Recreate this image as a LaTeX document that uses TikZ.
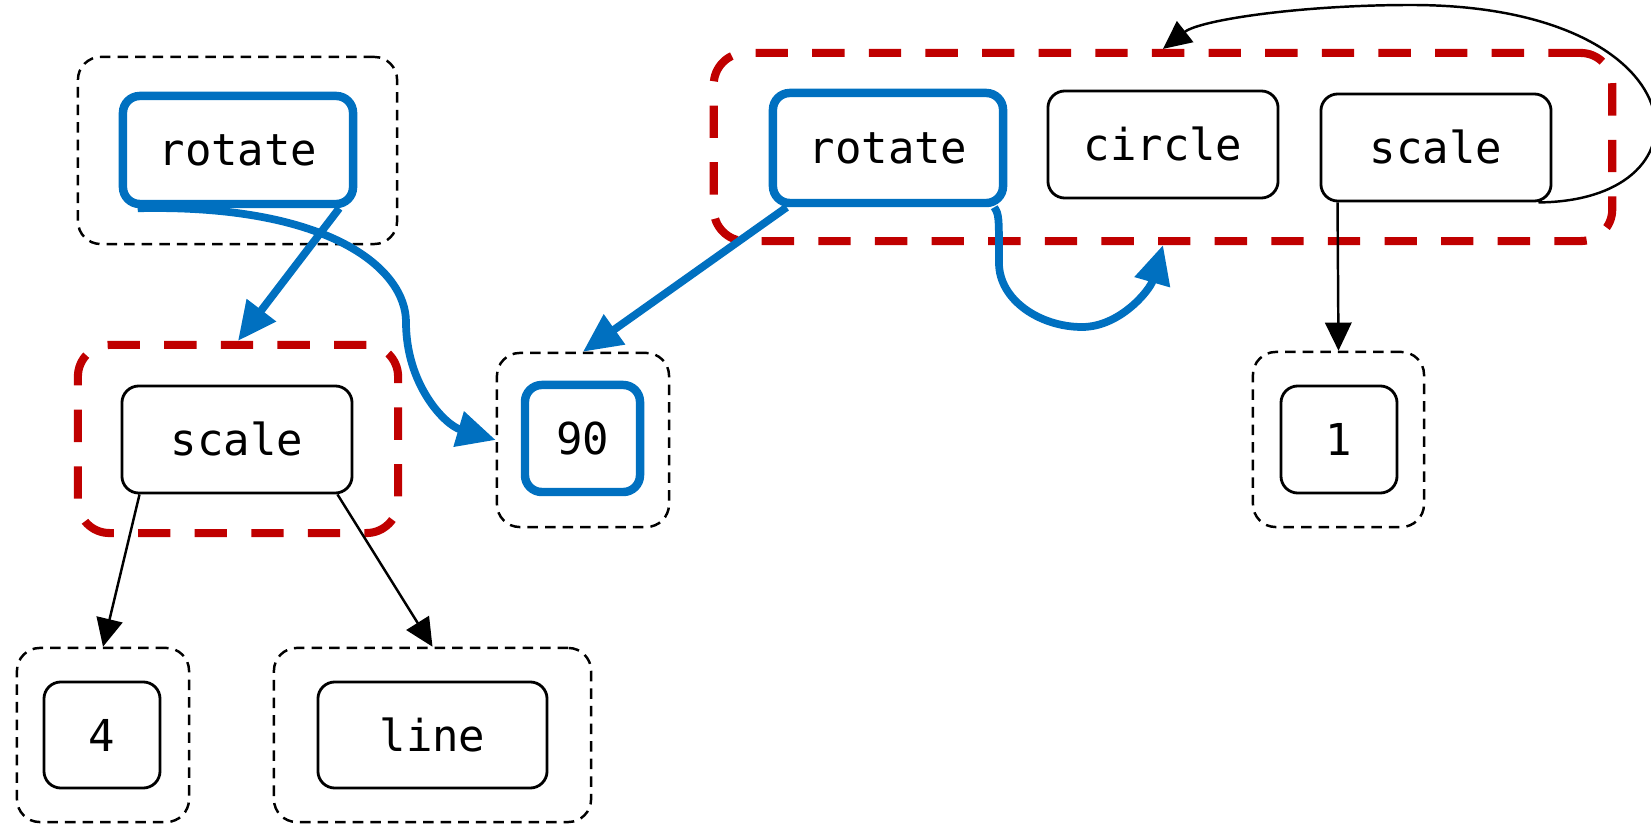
\documentclass[tikz,border=0pt]{standalone}
\usepackage{fontspec}
\setmonofont{DejaVu Sans Mono}
\usetikzlibrary{arrows.meta,calc}
\definecolor{hlblue}{RGB}{0,112,192}
\definecolor{hlred}{RGB}{192,0,0}
\begin{document}
\begin{tikzpicture}[x=0.01cm,y=-0.01cm,
  box/.style={draw=black,line width=0.8pt,rounded corners=4.8pt,fill=white,inner sep=0pt,font=\fontsize{12.5}{14}\ttfamily},
  hbox/.style={box,draw=hlblue,line width=2.4pt},
  grp/.style={draw=black,line width=0.7pt,dash pattern=on 3pt off 2pt,rounded corners=6.5pt,inner sep=0pt},
  rgrp/.style={draw=hlred,line width=2.3pt,dash pattern=on 9.2pt off 6.9pt,rounded corners=9pt,inner sep=0pt},
  edge/.style={draw=black,line width=0.7pt,-{Triangle[length=8pt,width=7.5pt]}},
  bedge/.style={draw=hlblue,line width=2.2pt,-{Triangle[length=11pt,width=10pt]}},
]
\useasboundingbox (0,0) rectangle (1651,825);
\clip (0,0) rectangle (1651,825);

% containers
\node[grp,minimum width=3.19cm,minimum height=1.87cm] (g1) at (237.5,150.5) {};
\node[rgrp,minimum width=3.2cm,minimum height=1.88cm] (rg1) at (238,439) {};
\node[grp,minimum width=1.72cm,minimum height=1.74cm] (d4) at (103,735) {};
\node[grp,minimum width=3.17cm,minimum height=1.74cm] (dl) at (432.5,735) {};
\node[grp,minimum width=1.72cm,minimum height=1.74cm] (d90) at (583,440) {};
\node[rgrp,minimum width=8.98cm,minimum height=1.88cm] (rg2) at (1163,147) {};
\node[grp,minimum width=1.71cm,minimum height=1.75cm] (d1) at (1338.5,439.5) {};

% boxes
\node[hbox,minimum width=2.3cm,minimum height=1.08cm] (r1) at (238,150) {rotate};
\node[box,minimum width=2.3cm,minimum height=1.07cm] (s1) at (237,439.5) {scale};
\node[box,minimum width=1.16cm,minimum height=1.06cm] (n4) at (102,735) {4};
\node[box,minimum width=2.29cm,minimum height=1.06cm] (nl) at (432.5,735) {line};
\node[hbox,minimum width=1.15cm,minimum height=1.07cm] (n90) at (582.5,438.5) {90};
\node[hbox,minimum width=2.3cm,minimum height=1.1cm] (r2) at (888,148) {rotate};
\node[box,minimum width=2.3cm,minimum height=1.07cm] (c2) at (1163,144.5) {circle};
\node[box,minimum width=2.3cm,minimum height=1.07cm] (s2) at (1436,147.5) {scale};
\node[box,minimum width=1.16cm,minimum height=1.07cm] (n1) at (1339,439.5) {1};

% connectors
\draw[bedge] ($(r1.south east)+(-18,0)$) -- (rg1.north);
\draw[bedge] ($(r1.south west)+(19,0)$) .. controls (332,204) and (406,270) .. (406,322)
  .. controls (406,385) and (445,425) .. (d90.west);
\draw[bedge] ($(r2.south west)+(18,0)$) -- (d90.north);
\draw[bedge] ($(r2.south east)+(-13,0)$) .. controls (999,215) .. (999,263)
  .. controls (999,300) and (1040,327) .. (1082,327)
  .. controls (1120,327) and (1150,290) .. (rg2.south);
\draw[edge] ($(s2.south west)+(18,0)$) -- (d1.north);
\draw[edge] ($(s2.south east)+(-14,0)$) .. controls (1720,201) and (1700,5) .. (1411,5)
  .. controls (1300,5) and (1200,20) .. (rg2.north);
\draw[edge] ($(s1.south west)+(19,0)$) -- (d4.north);
\draw[edge] ($(s1.south east)+(-16,0)$) -- (dl.north);
\end{tikzpicture}
\end{document}
